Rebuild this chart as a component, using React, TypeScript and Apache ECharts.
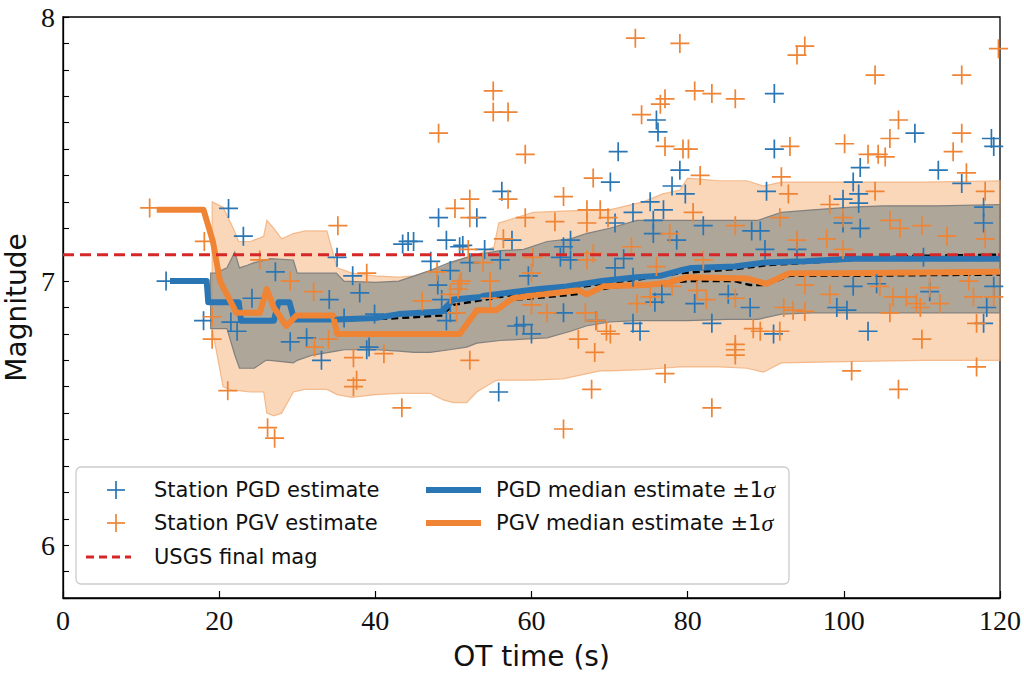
import { useEffect, useRef } from "react";
import * as echarts from "echarts";

// ---------- data ----------
const xTickValues = [0, 20, 40, 60, 80, 100, 120];
const yMajorTicks = [6, 7, 8];
const usgsFinalMag = 7.1;

const pgdStations: [number, number][] = [
  [13.2, 7.0], [18.0, 6.85], [21.2, 7.275], [21.5, 6.845], [22.3, 6.81], [23.1, 7.17], [24.2, 6.935], [27.2, 7.035],
  [29.1, 6.77], [31.2, 6.785], [33.1, 6.7], [34.1, 6.93], [35.1, 7.09], [36.0, 6.86], [37.1, 7.02], [38.0, 6.955],
  [38.9, 6.74], [39.2, 6.75], [39.9, 6.875], [43.5, 7.14], [44.2, 7.15], [44.9, 7.15], [47.1, 7.075], [48.0, 6.985],
  [48.1, 7.24], [48.5, 6.93], [49.1, 7.155], [49.1, 6.85], [49.6, 6.88], [49.6, 7.04], [50.8, 7.13], [51.2, 7.135],
  [52.1, 7.07], [53.0, 7.24], [54.0, 7.12], [56.0, 7.08], [56.2, 7.34], [57.5, 7.155], [55.8, 6.58], [58.1, 6.83],
  [59.0, 6.835], [59.6, 7.02], [60.0, 6.8], [63.7, 7.09], [64.1, 7.13], [64.1, 6.88], [65.0, 7.08], [65.0, 7.155],
  [68.3, 6.85], [70.1, 7.375], [70.7, 7.22], [70.7, 7.05], [71.1, 7.49], [71.8, 7.085], [73.0, 7.26], [73.0, 7.015],
  [73.0, 6.84], [73.9, 6.81], [75.2, 7.3], [75.6, 7.23], [75.6, 7.18], [75.8, 6.92], [76.0, 7.61], [76.2, 7.565],
  [76.7, 6.95], [76.9, 7.27], [78.0, 7.36], [78.6, 7.155], [79.0, 7.42], [79.7, 7.33], [80.9, 6.915], [82.0, 7.21],
  [83.1, 6.84], [85.2, 6.95], [88.0, 6.9], [88.2, 7.19], [89.3, 7.19], [89.9, 7.12], [90.1, 7.34], [91.0, 6.8],
  [91.1, 7.71], [91.1, 7.5], [94.0, 7.12], [99.1, 6.9], [99.9, 7.31], [99.9, 7.22], [100.4, 6.89], [101.2, 7.375],
  [101.2, 6.98], [101.9, 7.33], [101.9, 7.295], [102.1, 7.43], [102.1, 7.2], [103.1, 6.81], [104.2, 6.99], [109.1, 7.56],
  [110.2, 7.09], [111.0, 6.96], [112.1, 7.42], [115.1, 7.37], [117.9, 7.28], [117.9, 7.22], [118.3, 6.9], [117.9, 6.84],
  [118.9, 7.54], [119.2, 7.51], [119.2, 6.98],
];

const pgvStations: [number, number][] = [
  [11.1, 7.277], [18.1, 7.15], [19.1, 6.865], [19.1, 6.78], [21.1, 6.585], [25.2, 7.08], [26.2, 6.445], [27.1, 6.405],
  [29.1, 7.0], [32.1, 6.96], [32.2, 6.75], [34.0, 6.78], [35.2, 7.21], [37.2, 6.71], [37.6, 6.625], [37.2, 6.6],
  [38.9, 7.03], [41.1, 6.725], [43.4, 6.52], [46.0, 6.925], [47.9, 7.035], [48.1, 7.56], [49.6, 6.95], [50.2, 7.275],
  [50.4, 6.88], [50.6, 6.97], [50.8, 6.99], [51.0, 7.0], [51.9, 7.12], [52.1, 7.31], [52.1, 7.24], [52.1, 6.7],
  [53.8, 7.07], [54.7, 6.935], [54.7, 7.0], [55.1, 7.72], [55.1, 7.64], [56.4, 7.16], [57.0, 7.64], [57.0, 7.31],
  [59.2, 7.48], [59.2, 7.24], [60.0, 7.03], [60.0, 6.91], [60.2, 7.09], [62.0, 6.88], [63.0, 7.225], [64.1, 7.32],
  [64.1, 6.44], [66.0, 6.78], [66.9, 6.88], [67.1, 7.27], [67.1, 7.22], [67.1, 7.08], [67.7, 6.59], [67.9, 7.39],
  [67.9, 7.105], [68.1, 6.73], [68.3, 6.85], [68.8, 7.27], [69.6, 6.81], [69.8, 7.24], [70.1, 6.8], [72.8, 7.13],
  [73.3, 7.92], [73.5, 6.915], [74.1, 7.63], [75.2, 6.94], [76.0, 7.055], [76.5, 7.67], [77.1, 7.69], [77.1, 7.51],
  [77.1, 6.65], [77.7, 7.18], [78.0, 6.98], [79.0, 7.9], [79.4, 7.5], [80.1, 7.5], [80.7, 7.26], [80.9, 7.72],
  [81.2, 6.965], [81.6, 7.4], [82.0, 7.08], [82.4, 6.93], [83.1, 7.71], [83.1, 6.52], [86.1, 7.69], [86.1, 7.21],
  [86.1, 6.935], [86.1, 6.76], [86.1, 6.74], [86.1, 6.72], [88.4, 6.82], [89.3, 6.81], [91.8, 7.24], [91.8, 6.81],
  [92.0, 7.395], [92.3, 6.9], [92.9, 7.33], [93.1, 7.51], [93.5, 6.89], [94.0, 7.856], [94.0, 7.155], [95.0, 7.89],
  [95.0, 6.885], [95.0, 6.985], [97.8, 7.16], [98.2, 7.29], [98.2, 6.95], [99.9, 7.12], [99.9, 7.24], [100.1, 7.52],
  [101.0, 6.66], [103.1, 7.48], [104.0, 7.78], [104.0, 7.34], [104.4, 7.48], [104.6, 6.98], [105.3, 7.47], [105.9, 7.54],
  [105.9, 7.23], [105.9, 6.88], [106.3, 6.94], [107.0, 7.61], [107.0, 6.59], [107.2, 7.2], [108.0, 6.94], [109.3, 6.915],
  [109.8, 6.9], [110.0, 7.21], [110.0, 6.78], [111.0, 6.975], [112.3, 6.915], [113.2, 7.17], [114.0, 7.49], [115.1, 7.78],
  [115.1, 7.56], [115.7, 7.41], [116.0, 7.0], [116.6, 6.94], [117.0, 6.84], [117.0, 6.675], [118.1, 7.34], [118.1, 7.16],
  [119.2, 6.94], [119.8, 7.88],
];

const pgdMedT = [13.7, 18.4, 18.6, 22.5, 22.8, 27.0, 27.6, 29.0, 29.6, 35, 40, 43, 48.5, 50, 53.5, 54, 58, 61, 64.5, 69, 73.5, 76.5, 79, 80.5, 86, 89.7, 95, 101, 120];
const pgdMedY = [7.0, 7.0, 6.92, 6.92, 6.85, 6.85, 6.92, 6.92, 6.855, 6.855, 6.86, 6.875, 6.885, 6.93, 6.94, 6.945, 6.96, 6.97, 6.98, 7.0, 7.015, 7.02, 7.04, 7.05, 7.055, 7.07, 7.075, 7.085, 7.085];

const pgvMedT = [12, 18, 19.2, 20.1, 21.5, 22.2, 25.2, 26.1, 27, 28.6, 29.9, 34.6, 35.1, 50.8, 53, 55.5, 57.6, 60, 63, 66, 67.1, 69.2, 74.8, 77.7, 79.9, 87.6, 90.1, 93, 100, 120];
const pgvMedY = [7.27, 7.27, 7.15, 7.0, 6.92, 6.88, 6.88, 6.97, 6.9, 6.83, 6.87, 6.87, 6.8, 6.8, 6.89, 6.89, 6.935, 6.945, 6.955, 6.965, 6.95, 6.98, 6.985, 6.995, 7.015, 7.01, 6.99, 7.03, 7.03, 7.035];

const combAT = [35, 43, 48.5, 50, 54, 58, 64.5, 69, 73.5, 79, 86, 90, 101, 108, 120];
const combAY = [6.85, 6.86, 6.87, 6.91, 6.93, 6.95, 6.97, 6.99, 7.005, 7.03, 7.045, 7.06, 7.08, 7.095, 7.1];
const combBT = [58, 64, 67, 70, 80, 86, 88, 90, 93, 100, 120];
const combBY = [6.93, 6.945, 6.955, 6.975, 7.0, 7.0, 6.985, 6.985, 7.02, 7.02, 7.025];

const pgdBandT = [18.9, 19.5, 21.0, 22.0, 22.6, 23.6, 24.5, 26.0, 26.5, 29.5, 30.0, 32.0, 35.0, 36.0, 40.0, 43.0, 45.0, 47.0, 49.5, 51.7, 53.0, 56.0, 59.0, 62.0, 65.0, 67.0, 70.0, 73.5, 80.0, 85.0, 89.0, 92.0, 96.0, 101.0, 105.0, 112.0, 120.0];
const pgdBandHi = [7.03, 7.03, 7.05, 7.11, 7.05, 7.06, 7.07, 7.08, 7.085, 7.08, 7.03, 7.03, 7.03, 7.0, 6.995, 7.0, 7.02, 7.04, 7.07, 7.09, 7.1, 7.115, 7.12, 7.15, 7.16, 7.18, 7.2, 7.23, 7.23, 7.23, 7.23, 7.26, 7.27, 7.28, 7.285, 7.285, 7.29];
const pgdBandLo = [6.82, 6.82, 6.82, 6.72, 6.67, 6.67, 6.67, 6.7, 6.7, 6.69, 6.7, 6.72, 6.735, 6.74, 6.74, 6.735, 6.73, 6.73, 6.74, 6.75, 6.765, 6.775, 6.78, 6.785, 6.81, 6.83, 6.845, 6.85, 6.85, 6.855, 6.855, 6.875, 6.88, 6.88, 6.88, 6.88, 6.88];

const pgvBandT = [19.1, 20.5, 21.8, 22.5, 24.0, 25.7, 26.1, 27.0, 28.0, 29.5, 31.0, 33.8, 35.1, 37.0, 40.0, 43.0, 45.0, 47.0, 48.7, 50.0, 51.7, 53.0, 55.2, 55.8, 58.0, 60.2, 64.0, 68.8, 70.0, 74.3, 76.8, 79.0, 80.0, 84.0, 87.6, 89.7, 92.0, 100.0, 110.0, 120.0];
const pgvBandHi = [7.3, 7.28, 7.2, 7.15, 7.15, 7.17, 7.23, 7.2, 7.16, 7.18, 7.19, 7.19, 7.05, 7.03, 7.02, 7.015, 7.02, 7.04, 7.05, 7.07, 7.09, 7.1, 7.13, 7.22, 7.24, 7.26, 7.265, 7.27, 7.27, 7.3, 7.33, 7.345, 7.39, 7.38, 7.38, 7.36, 7.375, 7.375, 7.375, 7.38];
const pgvBandLo = [6.82, 6.6, 6.585, 6.585, 6.58, 6.58, 6.5, 6.49, 6.5, 6.58, 6.59, 6.59, 6.57, 6.56, 6.57, 6.575, 6.575, 6.575, 6.55, 6.54, 6.54, 6.58, 6.62, 6.625, 6.625, 6.625, 6.63, 6.66, 6.66, 6.665, 6.67, 6.675, 6.675, 6.675, 6.67, 6.655, 6.69, 6.695, 6.7, 6.7];

const legendLabels = {
  pgdStation: "Station PGD estimate",
  pgvStation: "Station PGV estimate",
  usgs: "USGS final mag",
  pgdMed: "PGD median estimate \u00b11",
  pgvMed: "PGV median estimate \u00b11",
};

// ---------- styles ----------
const BLUE = "#2a76b4";
const ORANGE = "#ee8434";
const RED = "#d62728";
const PLUS =
  "path://M-0.045,-0.5L0.045,-0.5L0.045,-0.045L0.5,-0.045L0.5,0.045L0.045,0.045L0.045,0.5L-0.045,0.5L-0.045,0.045L-0.5,0.045L-0.5,-0.045L-0.045,-0.045Z";
const SANS = '"DejaVu Sans", sans-serif';
const SERIF = '"Liberation Serif", "DejaVu Serif", serif';

function band(name: string, t: number[], hi: number[], lo: number[], fill: string, stroke: string, z: number) {
  return {
    type: "custom",
    name,
    coordinateSystem: "cartesian2d",
    silent: true,
    z,
    data: t.map((x, i) => [x, hi[i], lo[i]]),
    encode: { x: 0, y: [1, 2] },
    renderItem: (params: any, api: any) => {
      if (params.dataIndex !== 0) return null;
      const pts: number[][] = [];
      for (let i = 0; i < t.length; i++) pts.push(api.coord([t[i], hi[i]]));
      for (let i = t.length - 1; i >= 0; i--) pts.push(api.coord([t[i], lo[i]]));
      return { type: "polygon", shape: { points: pts }, style: { fill, stroke, lineWidth: 1.2 } };
    },
  };
}

function line(name: string, t: number[], y: number[], color: string, width: number, z: number, dash?: number[]) {
  return {
    type: "line",
    name,
    data: t.map((x, i) => [x, y[i]]),
    showSymbol: false,
    symbol: "none",
    silent: true,
    z,
    lineStyle: { color, width, type: dash ? dash : "solid", cap: "butt", join: "round" },
  };
}

export default function App() {
  const ref = useRef<HTMLDivElement>(null);
  useEffect(() => {
    if (!ref.current) return;
    const chart = echarts.init(ref.current, undefined, { renderer: "svg" });
    const lx = 76, ly = 467;
    const rows = [ly + 23, ly + 56, ly + 90];
    const textStyle = (text: string, x: number, y: number, rich?: boolean) => ({
      type: "text",
      x,
      y,
      style: {
        text: rich ? text + "{s|\u03c3}" : text,
        font: `21px ${SANS}`,
        fill: "#111",
        verticalAlign: "middle",
        rich: rich ? { s: { fontStyle: "italic", fontFamily: SERIF, fontSize: 24, fill: "#111" } } : undefined,
      },
    });
    const cross = (cx: number, cy: number, color: string) => [
      { type: "line", shape: { x1: cx - 9, y1: cy, x2: cx + 9, y2: cy }, style: { stroke: color, lineWidth: 1.7 } },
      { type: "line", shape: { x1: cx, y1: cy - 9, x2: cx, y2: cy + 9 }, style: { stroke: color, lineWidth: 1.7 } },
    ];
    const option: any = {
      animation: false,
      backgroundColor: "#fff",
      grid: {
        left: 63, right: 24, top: 17, bottom: 80,
        outerBoundsMode: "none",
        containLabel: false,
        show: true, borderColor: "#000", borderWidth: 1.3, backgroundColor: "transparent",
      },
      xAxis: {
        type: "value",
        min: xTickValues[0],
        max: xTickValues[xTickValues.length - 1],
        interval: 20,
        name: "OT time (s)",
        nameLocation: "middle",
        nameGap: 44,
        nameTextStyle: { fontFamily: SANS, fontSize: 28, color: "#111" },
        axisLine: { show: true, lineStyle: { color: "#000", width: 1.3 } },
        axisTick: { show: true, inside: true, length: 7, lineStyle: { color: "#000", width: 1.2 } },
        axisLabel: { fontFamily: SERIF, fontSize: 28, color: "#111", margin: 8 },
        splitLine: { show: false },
      },
      yAxis: {
        type: "value",
        min: 5.8,
        max: yMajorTicks[yMajorTicks.length - 1],
        interval: 0.1,
        name: "Magnitude",
        nameLocation: "middle",
        nameGap: 32,
        nameRotate: 90,
        nameTextStyle: { fontFamily: SANS, fontSize: 28, color: "#111" },
        axisLine: { show: true, lineStyle: { color: "#000", width: 1.3 } },
        axisTick: { show: true, inside: true, length: 6, lineStyle: { color: "#000", width: 1.1 } },
        axisLabel: {
          fontFamily: SERIF,
          fontSize: 28,
          color: "#111",
          margin: 8,
          formatter: (v: number) => {
            const r = Math.round(v);
            return Math.abs(v - r) < 1e-6 && yMajorTicks.includes(r) ? String(r) : "";
          },
        },
        splitLine: { show: false },
      },
      series: [
        band("PGV band", pgvBandT, pgvBandHi, pgvBandLo, "rgba(245,160,90,0.42)", "rgba(240,165,105,0.7)", 1),
        band("PGD band", pgdBandT, pgdBandHi, pgdBandLo, "rgba(125,133,133,0.6)", "rgba(120,122,122,0.9)", 2),
        line("combined A", combAT, combAY, "#000", 2.5, 3, [7, 4]),
        line("combined B", combBT, combBY, "#000", 2.5, 3, [7, 4]),
        line(legendLabels.pgdMed, pgdMedT, pgdMedY, BLUE, 6, 4),
        line(legendLabels.pgvMed, pgvMedT, pgvMedY, ORANGE, 6, 5),
        {
          type: "scatter",
          name: legendLabels.pgdStation,
          data: pgdStations,
          symbol: PLUS,
          symbolSize: 19,
          itemStyle: { color: BLUE, opacity: 1 },
          silent: true,
          z: 6,
        },
        {
          type: "scatter",
          name: legendLabels.pgvStation,
          data: pgvStations,
          symbol: PLUS,
          symbolSize: 19,
          itemStyle: { color: ORANGE, opacity: 1 },
          silent: true,
          z: 7,
        },
        line(legendLabels.usgs, [xTickValues[0], xTickValues[xTickValues.length - 1]], [usgsFinalMag, usgsFinalMag], RED, 3, 8, [11, 6]),
      ],
      graphic: [
        {
          type: "group",
          z: 100,
          children: [
            { type: "rect", shape: { x: lx, y: ly, width: 713, height: 117, r: 5 }, style: { fill: "rgba(255,255,255,0.85)", stroke: "#cccccc", lineWidth: 1.3 } },
            ...cross(116, rows[0], BLUE),
            textStyle(legendLabels.pgdStation, 154, rows[0]),
            ...cross(116, rows[1], ORANGE),
            textStyle(legendLabels.pgvStation, 154, rows[1]),
            { type: "line", shape: { x1: 86, y1: rows[2], x2: 131, y2: rows[2] }, style: { stroke: RED, lineWidth: 3, lineDash: [8, 5] } },
            textStyle(legendLabels.usgs, 154, rows[2]),
            { type: "line", shape: { x1: 426, y1: rows[0], x2: 481, y2: rows[0] }, style: { stroke: BLUE, lineWidth: 6 } },
            textStyle(legendLabels.pgdMed, 496, rows[0], true),
            { type: "line", shape: { x1: 426, y1: rows[1], x2: 481, y2: rows[1] }, style: { stroke: ORANGE, lineWidth: 6 } },
            textStyle(legendLabels.pgvMed, 496, rows[1], true),
          ],
        },
      ],
    };
    chart.setOption(option);
    return () => chart.dispose();
  }, []);
  return <div ref={ref} style={{ position: "fixed", left: 0, top: 0, width: 1024, height: 678 }} />;
}
